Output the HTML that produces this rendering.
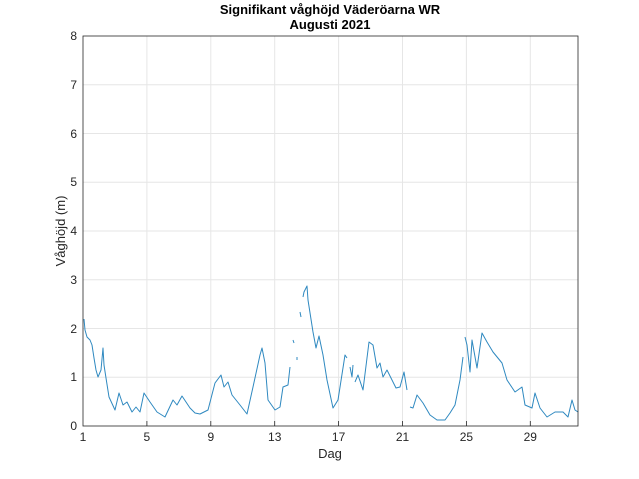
<!DOCTYPE html>
<html><head><meta charset="utf-8"><style>body{margin:0;background:#fff}svg{display:block}</style></head><body>
<svg width="639" height="479" viewBox="0 0 639 479" xmlns="http://www.w3.org/2000/svg" font-family="Liberation Sans, sans-serif">
<rect width="639" height="479" fill="#fff"/>
<g stroke="#e6e6e6" stroke-width="1">
<line x1="146.9" y1="36" x2="146.9" y2="426"/><line x1="210.8" y1="36" x2="210.8" y2="426"/><line x1="274.7" y1="36" x2="274.7" y2="426"/><line x1="338.6" y1="36" x2="338.6" y2="426"/><line x1="402.5" y1="36" x2="402.5" y2="426"/><line x1="466.4" y1="36" x2="466.4" y2="426"/><line x1="530.3" y1="36" x2="530.3" y2="426"/>
<line x1="83" y1="377.25" x2="578" y2="377.25"/><line x1="83" y1="328.5" x2="578" y2="328.5"/><line x1="83" y1="279.75" x2="578" y2="279.75"/><line x1="83" y1="231" x2="578" y2="231"/><line x1="83" y1="182.25" x2="578" y2="182.25"/><line x1="83" y1="133.5" x2="578" y2="133.5"/><line x1="83" y1="84.75" x2="578" y2="84.75"/>
</g>
<g fill="none" stroke="#2f89c0" stroke-width="1" stroke-linejoin="round">
<polyline points="84,319 85,330 87,337 90,340 92,345 94,358 96,370 98,377 101,370 103,348 104,365 106,378 109,397 115,410 119,393 123,405 127,402 132,412 136,407 140,412 144,393 150,402 157,412 165,417 173,400 177,405 182,396 190,408 195,413 200,414 208,410 215,383 221,375 224,387 228,382 232,395 240,405 247,414 253,387 260,355 262,348 265,363 268,400 275,410 280,407 283,387 288,385 290,367"/>
<polyline points="293,340 294,343"/><polyline points="297,357 297,360"/>
<polyline points="300,312 301,317"/>
<polyline points="303,297 304,292 307,286 308,300 313,332 316,348 319,336 323,355 327,380 333,408 338,400 345,355 347,358"/>
<polyline points="350,367 352,377 353,365"/>
<polyline points="355,382 358,375 363,390 369,342 373,345 377,368 380,363 383,377 387,370 392,380 396,388 400,387 404,372 407,390"/>
<polyline points="410,407 413,408 417,395 423,403 430,415 437,420 445,420 450,413 455,405 460,380 463,357"/>
<polyline points="465,337 467,345 470,372 472,340 477,368 482,333 487,342 493,352 502,363 507,380 515,392 522,387 525,405 532,408 535,393 540,408 547,417 555,412 563,412 568,417 572,400 575,410 578,412"/>
</g>
<rect x="83" y="36" width="495" height="390" fill="none" stroke="#262626" stroke-width="0.8"/>
<g stroke="#262626" stroke-width="0.8">
<line x1="146.9" y1="426" x2="146.9" y2="421"/><line x1="210.8" y1="426" x2="210.8" y2="421"/><line x1="274.7" y1="426" x2="274.7" y2="421"/><line x1="338.6" y1="426" x2="338.6" y2="421"/><line x1="402.5" y1="426" x2="402.5" y2="421"/><line x1="466.4" y1="426" x2="466.4" y2="421"/><line x1="530.3" y1="426" x2="530.3" y2="421"/>
</g>
<g font-size="12" fill="#262626" text-anchor="middle">
<text x="83" y="441">1</text><text x="146.9" y="441">5</text><text x="210.8" y="441">9</text><text x="274.7" y="441">13</text><text x="338.6" y="441">17</text><text x="402.5" y="441">21</text><text x="466.4" y="441">25</text><text x="530.3" y="441">29</text>
</g>
<g font-size="12" fill="#262626" text-anchor="end">
<text x="77" y="430">0</text><text x="77" y="381">1</text><text x="77" y="333">2</text><text x="77" y="284">3</text><text x="77" y="235">4</text><text x="77" y="186">5</text><text x="77" y="138">6</text><text x="77" y="89">7</text><text x="77" y="40">8</text>
</g>
<text x="330" y="458" font-size="13" fill="#262626" text-anchor="middle">Dag</text>
<text transform="translate(65,231) rotate(-90)" font-size="13" fill="#262626" text-anchor="middle">Våghöjd (m)</text>
<text x="330" y="14" font-size="13" font-weight="bold" fill="#000" text-anchor="middle">Signifikant våghöjd Väderöarna WR</text>
<text x="330" y="29" font-size="13" font-weight="bold" fill="#000" text-anchor="middle">Augusti 2021</text>
</svg>
</body></html>
